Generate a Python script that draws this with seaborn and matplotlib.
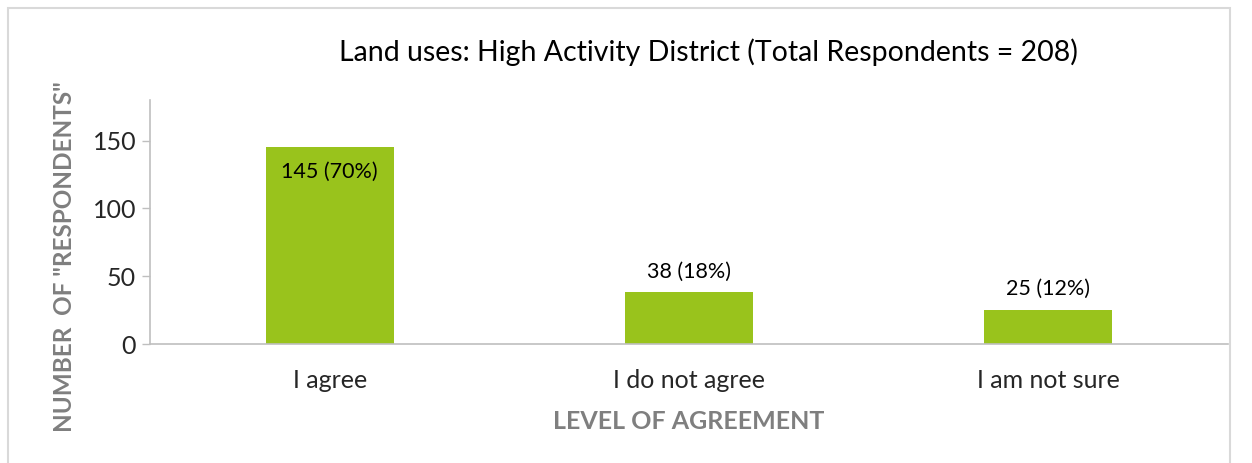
import matplotlib
matplotlib.use("Agg")
import matplotlib.pyplot as plt
import seaborn as sns
import pandas as pd
from matplotlib.patches import Rectangle

# data
categories = ["I agree", "I do not agree", "I am not sure"]
counts = [145, 38, 25]
labels = ["145 (70%)", "38 (18%)", "25 (12%)"]
title = "Land uses: High Activity District (Total Respondents = 208)"

sns.set_theme(style="white")
plt.rcParams['font.family'] = ['Lato', 'DejaVu Sans']

df = pd.DataFrame({"category": categories, "count": counts})

fig = plt.figure(figsize=(12.52, 4.63), dpi=100)
ax = fig.add_axes([150 / 1252, 1 - 344 / 463, (1228 - 150) / 1252, (344 - 100) / 463])

sns.barplot(data=df, x="category", y="count", color="#99C31C", width=0.356,
            saturation=1, ax=ax, edgecolor="none")

ax.set_ylim(0, 180)
ax.set_yticks([0, 50, 100, 150])
ax.tick_params(axis='y', labelsize=18, length=6, width=1, color="#bfbfbf",
               left=True, pad=4)
ax.tick_params(axis='x', labelsize=18, length=0, pad=18)
for s in ["top", "right"]:
    ax.spines[s].set_visible(False)
for s in ["left", "bottom"]:
    ax.spines[s].set_color("#bfbfbf")
    ax.spines[s].set_linewidth(1.2)

# value labels: first one inside bar, others above
for i, (v, lab) in enumerate(zip(counts, labels)):
    if i == 0:
        ax.text(i, v - 11, lab, ha="center", va="top", fontsize=15.5, color="black")
    else:
        ax.text(i, v + 8, lab, ha="center", va="bottom", fontsize=15.5, color="black")

ax.set_xlabel("LEVEL OF AGREEMENT", fontsize=18, fontweight="bold", color="#7f7f7f")
ax.xaxis.set_label_coords(0.5, -0.27)
ax.set_ylabel('NUMBER  OF "RESPONDENTS"', fontsize=17.5, fontweight="bold",
              color="#7f7f7f")
ax.yaxis.set_label_coords(-0.069, 0.36)

fig.text(708 / 1252, 1 - 52 / 463, title, ha="center", va="center", fontsize=20.5,
         color="black")

# outer chart border
fig.patches.append(Rectangle((8 / 1252, -0.01), (1230 - 8) / 1252, 1 - 8 / 463 + 0.01,
                             transform=fig.transFigure, fill=False,
                             edgecolor="#d9d9d9", linewidth=1.5))

fig.savefig("out.png", dpi=100)
